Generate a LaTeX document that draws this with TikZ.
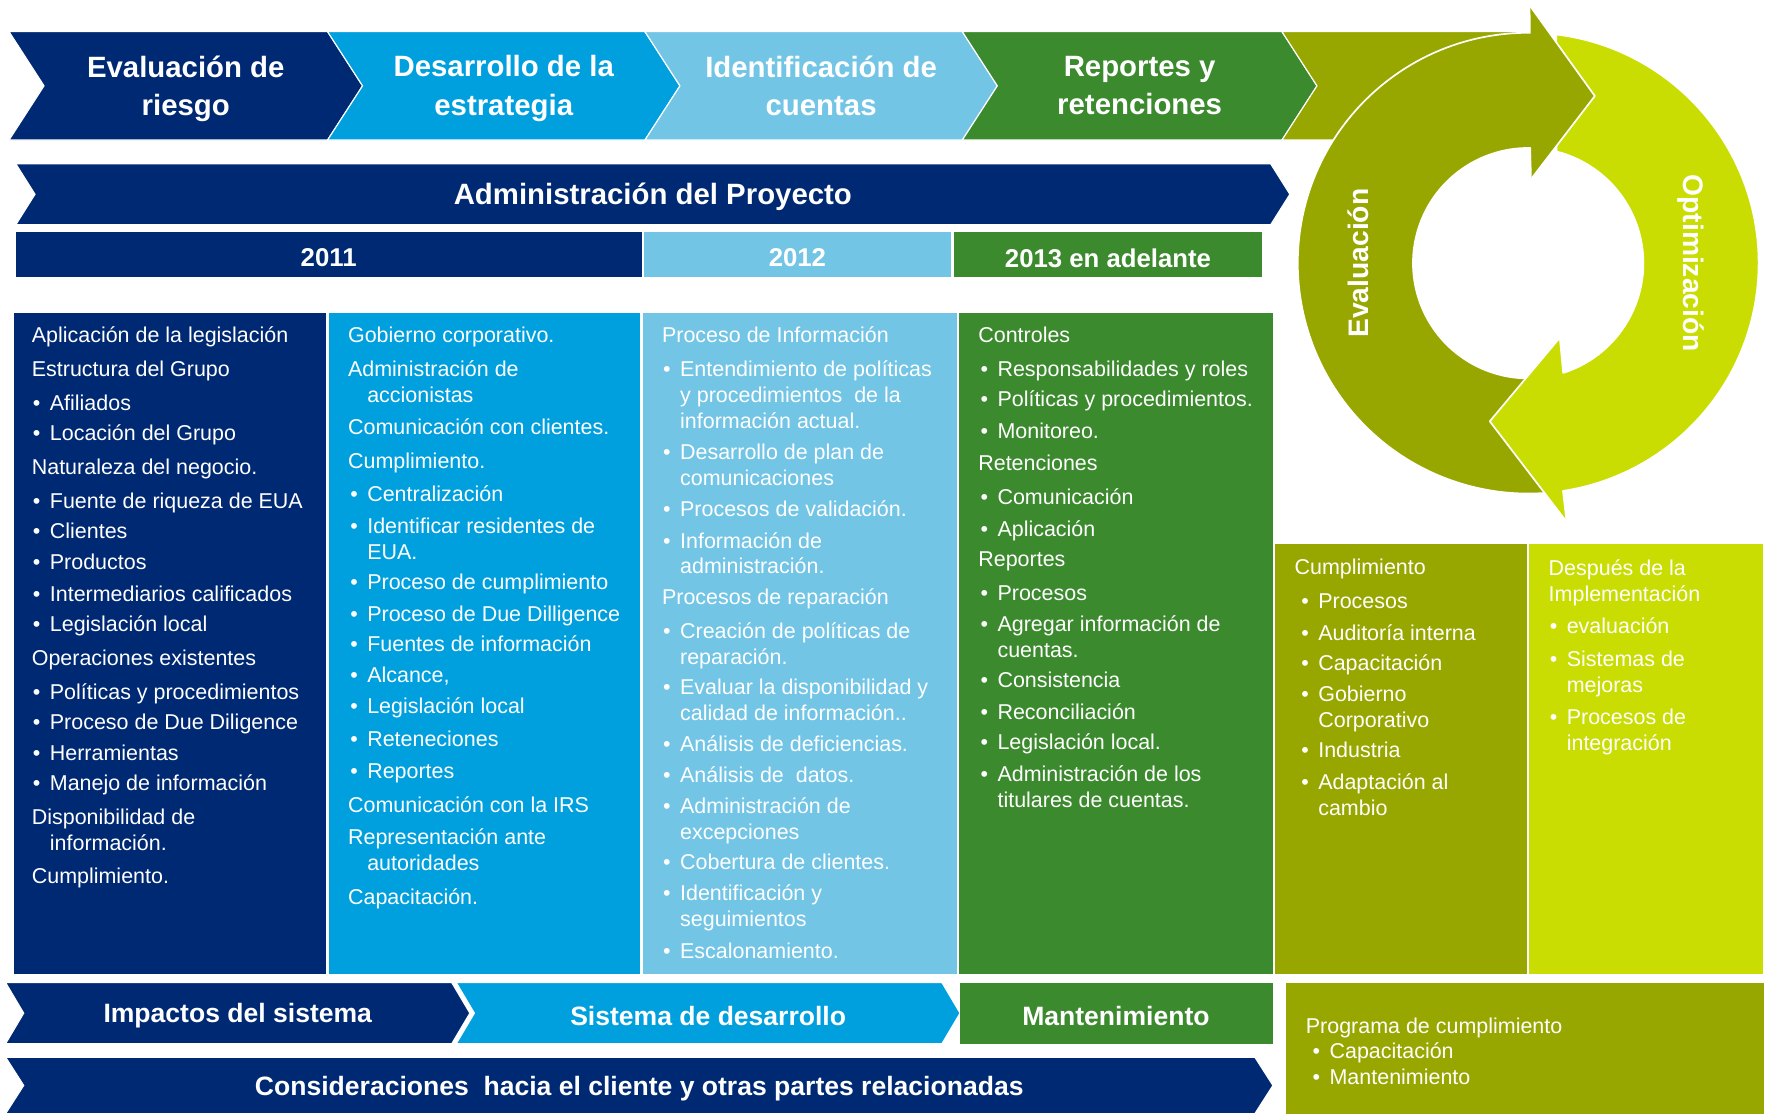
\documentclass[tikz,border=0pt]{standalone}
\usepackage{fontspec}
\setmainfont{Liberation Sans}
\usetikzlibrary{positioning, calc}

\definecolor{kpnavy}{RGB}{0, 41, 115}
\definecolor{kpblue}{RGB}{0, 160, 223}
\definecolor{kplight}{RGB}{115, 197, 230}
\definecolor{kpgreen}{RGB}{60, 138, 46}
\definecolor{kpolive}{RGB}{152, 167, 0}
\definecolor{kplime}{RGB}{201, 221, 3}

% bullet and hanging indent
\newcommand{\itm}[1][0pt]{\hspace*{#1}\makebox[15pt][l]{\textbullet}\ignorespaces}
\newcommand{\ind}[1][0pt]{\hspace*{#1}\hspace*{15pt}\ignorespaces}

% chevron: x1, x2, ytop, ybot, depth, colour, name, text
\newcommand{\chev}[8]{%
  \fill[#6, draw=white, line width=1pt] (#1,-#3) -- (#2,-#3) -- ({#2+#5},{-(#3+#4)/2})
    -- (#2,-#4) -- (#1,-#4) -- ({#1+#5},{-(#3+#4)/2}) -- cycle;
  \node[chevtxt] (#7) at ({(#1+#2+#5)/2},{-(#3+#4)/2}) {#8};}

\tikzset{
  chevtxt/.style={text=white, font=\fontsize{26}{34}\selectfont\bfseries, align=center, inner sep=0pt, yshift=-2.5pt},
  yeartxt/.style={chevtxt, font=\fontsize{22.8}{28}\selectfont\bfseries},
  coltxt/.style={text=white, font=\fontsize{19}{23}\selectfont, align=left, inner sep=0pt, anchor=north west},
  ringtxt/.style={text=white, font=\fontsize{25}{30}\selectfont\bfseries, inner sep=0pt},
  ringedge/.style={draw=white, line width=1.5pt, line join=round}
}

\begin{document}
\begin{tikzpicture}[x=1pt, y=1pt]
  \useasboundingbox (0,0) rectangle (1568,-986);

  % phases
  \chev{8}{290}{28}{124}{31}{kpnavy}{riesgo}{Evaluación de\\riesgo}
  \chev{290}{571}{28}{124}{31}{kpblue}{estrategia}{Desarrollo de la\\estrategia}
  \chev{571}{852}{28}{124}{31}{kplight}{ident}{Identificación de\\cuentas\vphantom{g}}
  \chev{852}{1135}{28}{124}{31}{kpgreen}{reportes}{Reportes y\\retenciones\vphantom{g}}
  \fill[kpolive, draw=white, line width=1pt] (1135,-28) -- (1356,-28) -- (1356,-124) -- (1135,-124) -- (1166,-76) -- cycle;

  \chev{14}{1125}{145}{199}{17}{kpnavy}{admin}{Administración del Proyecto}

  % years
  \fill[kpnavy] (14,-205) rectangle (568,-245);
  \fill[kplight] (570,-205) rectangle (842,-245);
  \fill[kpgreen] (845,-205) rectangle (1117,-245);
  \node[yeartxt] (y2011) at (291,-226) {2011};
  \node[yeartxt] (y2012) at (706,-226) {2012};
  \node[yeartxt] (y2013) at (981,-226) {2013 en adelante};

  % columns
  \fill[kpnavy] (12,-277) rectangle (289,-862);
  \fill[kpblue] (291,-277) rectangle (567,-862);
  \fill[kplight] (569,-277) rectangle (847,-862);
  \fill[kpgreen] (849,-277) rectangle (1127,-862);
  \fill[kpolive] (1129,-482) rectangle (1352,-862);
  \fill[kplime] (1354,-482) rectangle (1561,-862);

  \node[coltxt] (legis) at (28,-289) {Aplicación de la legislación\\[7pt]
    Estructura del Grupo\\[7pt]
    \itm[1pt] Afiliados\\[4pt]
    \itm[1pt] Locación del Grupo\\[7pt]
    Naturaleza del negocio.\\[7pt]
    \itm[1pt] Fuente de riqueza de EUA\\[4pt]
    \itm[1pt] Clientes\\[4pt]
    \itm[1pt] Productos\\[5pt]
    \itm[1pt] Intermediarios calificados\\[4pt]
    \itm[1pt] Legislación local\\[7pt]
    Operaciones existentes\\[7pt]
    \itm[1pt] Políticas y procedimientos\\[4pt]
    \itm[1pt] Proceso de Due Diligence\\[4pt]
    \itm[1pt] Herramientas\\[4pt]
    \itm[1pt] Manejo de información\\[7pt]
    Disponibilidad de\\
    \ind[1pt] información.\\[6pt]
    Cumplimiento.};

  \node[coltxt] (gobierno) at (308,-289) {Gobierno corporativo.\\[7pt]
    Administración de\\
    \ind[2pt] accionistas\\[6pt]
    Comunicación con clientes.\\[7pt]
    Cumplimiento.\\[6pt]
    \itm[2pt] Centralización\\[5pt]
    \itm[2pt] Identificar residentes de\\
    \ind[2pt] EUA.\\[4pt]
    \itm[2pt] Proceso de cumplimiento\\[5pt]
    \itm[2pt] Proceso de Due Dilligence\\[4pt]
    \itm[2pt] Fuentes de información\\[4pt]
    \itm[2pt] Alcance,\\[5pt]
    \itm[2pt] Legislación local\\[6pt]
    \itm[2pt] Reteneciones\\[5pt]
    \itm[2pt] Reportes\\[7pt]
    Comunicación con la IRS\\[6pt]
    Representación ante\\
    \ind[2pt] autoridades\\[7pt]
    Capacitación.};

  \node[coltxt] (proceso) at (586,-289) {Proceso de Información\\[7pt]
    \itm[1pt] Entendimiento de políticas\\
    \ind[1pt] y procedimientos\ \ de la\\
    \ind[1pt] información actual.\\[5pt]
    \itm[1pt] Desarrollo de plan de\\
    \ind[1pt] comunicaciones\\[4pt]
    \itm[1pt] Procesos de validación.\\[5pt]
    \itm[1pt] Información de\\
    \ind[1pt] administración.\\[4pt]
    Procesos de reparación\\[7pt]
    \itm[1pt] Creación de políticas de\\
    \ind[1pt] reparación.\\[4pt]
    \itm[1pt] Evaluar la disponibilidad y\\
    \ind[1pt] calidad de información..\\[4pt]
    \itm[1pt] Análisis de deficiencias.\\[5pt]
    \itm[1pt] Análisis de\ \ datos.\\[4pt]
    \itm[1pt] Administración de\\
    \ind[1pt] excepciones\\[4pt]
    \itm[1pt] Cobertura de clientes.\\[4pt]
    \itm[1pt] Identificación y\\
    \ind[1pt] seguimientos\\[5pt]
    \itm[1pt] Escalonamiento.};

  \node[coltxt] (controles) at (866,-289) {Controles\\[7pt]
    \itm[2pt] Responsabilidades y roles\\[4pt]
    \itm[2pt] Políticas y procedimientos.\\[5pt]
    \itm[2pt] Monitoreo.\\[6pt]
    Retenciones\\[7pt]
    \itm[2pt] Comunicación\\[5pt]
    \itm[2pt] Aplicación\\[4pt]
    Reportes\\[7pt]
    \itm[2pt] Procesos\\[4pt]
    \itm[2pt] Agregar información de\\
    \ind[2pt] cuentas.\\[4pt]
    \itm[2pt] Consistencia\\[5pt]
    \itm[2pt] Reconciliación\\[4pt]
    \itm[2pt] Legislación local.\\[5pt]
    \itm[2pt] Administración de los\\
    \ind[2pt] titulares de cuentas.};

  \node[coltxt] (cumpl) at (1146,-495) {Cumplimiento\\[7pt]
    \itm[6pt] Procesos\\[5pt]
    \itm[6pt] Auditoría interna\\[4pt]
    \itm[6pt] Capacitación\\[4pt]
    \itm[6pt] Gobierno\\
    \ind[6pt] Corporativo\\[4pt]
    \itm[6pt] Industria\\[5pt]
    \itm[6pt] Adaptación al\\
    \ind[6pt] cambio};

  \node[coltxt] (despues) at (1371,-495) {Después de la\\
    Implementación\\[6pt]
    \itm[1pt] evaluación\\[6pt]
    \itm[1pt] Sistemas de\\
    \ind[1pt] mejoras\\[5pt]
    \itm[1pt] Procesos de\\
    \ind[1pt] integración};

  % bottom bars
  \begin{scope}[chevtxt/.append style={font=\fontsize{23.5}{30}\selectfont\bfseries}]
    \chev{5}{400}{870}{924}{16}{kpnavy}{impactos}{Impactos del sistema}
    \chev{404}{834}{870}{924}{16}{kpblue}{sisdes}{Sistema de desarrollo}
    \fill[kpgreen] (850,-870) rectangle (1127,-924);
    \node[chevtxt] (mant) at (988,-897) {Mantenimiento};
    \chev{5}{1111}{936}{986}{16}{kpnavy}{consid}{Consideraciones\ \ hacia el cliente y otras partes relacionadas}
  \end{scope}
  \fill[kpolive] (1139,-870) rectangle (1562,-990);
  \node[coltxt] (programa) at (1156,-901) {Programa de cumplimiento\\[-1pt]
    \itm[6pt] Capacitación\\
    \itm[6pt] Mantenimiento};

  % cycle
  \begin{scope}[shift={(1353,-233)}]
    \fill[kpolive, ringedge] (88.9:102) -- (3,75) -- (59,148) -- (2,227.3) -- (89.4:204)
      arc[start angle=89.4, end angle=274.8, radius=204] -- (279.6:102)
      arc[start angle=279.6, end angle=88.9, radius=102] -- cycle;
    \fill[kplime, ringedge] (83:204) arc[start angle=83, end angle=-81.3, radius=204]
      -- (34,-229) -- (-34,-140) -- (28,-66) -- (-72.3:102)
      arc[start angle=-72.3, end angle=75.8, radius=102] -- cycle;
    \fill[kpolive] (3,75) -- (59,148) -- (2,227.3) -- cycle;
    \draw[ringedge] (3,75) -- (59,148) -- (2,227.3);
    \node[ringtxt, rotate=90] (evalua) at (-150,0) {Evaluación};
    \node[ringtxt, rotate=-90] (optim) at (144,0) {Optimización};
  \end{scope}
\end{tikzpicture}
\end{document}
